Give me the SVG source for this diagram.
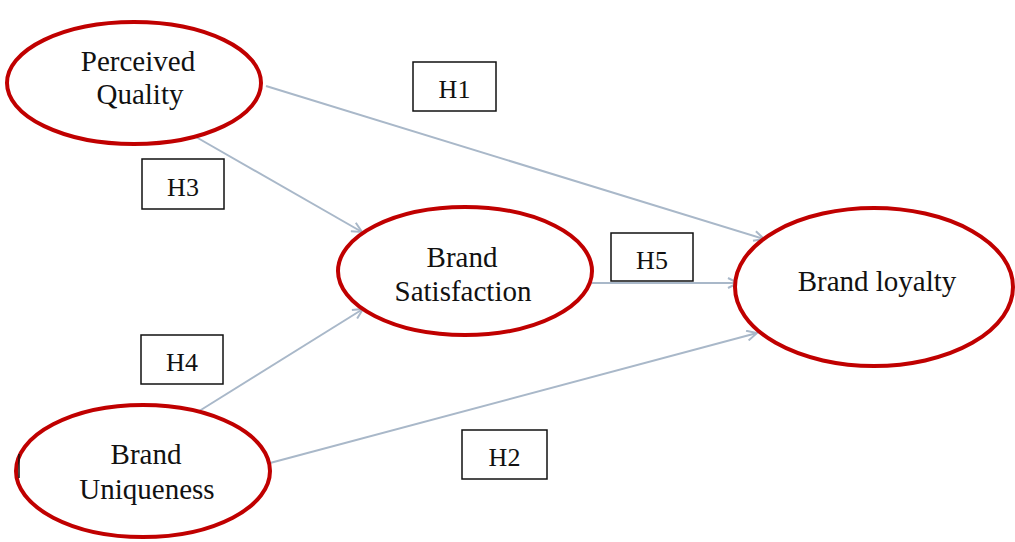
<svg xmlns="http://www.w3.org/2000/svg" width="1015" height="542" viewBox="0 0 1015 542">
<style>
.node{fill:#fff;stroke:#c00000;stroke-width:4}
.t{font-family:"Liberation Serif","Times New Roman",serif;font-size:29px;fill:#111;text-anchor:middle}
.lbl{fill:#fff;stroke:#111;stroke-width:1.5}
.lt{font-family:"Liberation Serif","Times New Roman",serif;font-size:26px;fill:#111;text-anchor:middle}
.c{stroke:#a9b8c9;stroke-width:2;fill:none;marker-end:url(#arr)}
</style>
<defs>
<marker id="arr" viewBox="0 0 12 12" refX="11" refY="6" markerWidth="12" markerHeight="12" markerUnits="userSpaceOnUse" orient="auto">
<path d="M1,1 L11,6 L1,11" fill="none" stroke="#a9b8c9" stroke-width="2"/>
</marker>
</defs>
<g id="connectors">
<line class="c" x1="266" y1="86" x2="764" y2="239"/>
<line class="c" x1="196" y1="137" x2="362" y2="232"/>
<line class="c" x1="196" y1="413" x2="363" y2="309"/>
<line class="c" x1="592" y1="283" x2="738" y2="283"/>
<line class="c" x1="270" y1="463" x2="757" y2="333"/>
</g>
<g id="perceived-quality">
<ellipse class="node" cx="134" cy="83" rx="127" ry="61"/>
<text class="t" x="138" y="71">Perceived</text>
<text class="t" x="140" y="104">Quality</text>
</g>
<g id="brand-satisfaction">
<ellipse class="node" cx="465" cy="271" rx="127" ry="64"/>
<text class="t" x="462" y="267">Brand</text>
<text class="t" x="463" y="301">Satisfaction</text>
</g>
<g id="brand-loyalty">
<ellipse class="node" cx="874" cy="287" rx="139" ry="79"/>
<text class="t" x="877" y="291">Brand loyalty</text>
</g>
<g id="brand-uniqueness">
<ellipse class="node" cx="143" cy="471" rx="127" ry="66"/>
<text class="t" x="146" y="464">Brand</text>
<text class="t" x="147" y="499">Uniqueness</text>
<line x1="19" y1="454" x2="19" y2="478" stroke="#111" stroke-width="1.5"/>
</g>
<g id="H1"><rect class="lbl" x="413" y="62" width="83" height="49"/><text class="lt" x="454.5" y="98">H1</text></g>
<g id="H3"><rect class="lbl" x="142" y="159" width="82" height="50"/><text class="lt" x="183" y="196">H3</text></g>
<g id="H5"><rect class="lbl" x="611" y="233" width="82" height="48"/><text class="lt" x="652" y="269">H5</text></g>
<g id="H4"><rect class="lbl" x="141" y="335" width="82" height="49"/><text class="lt" x="182" y="371">H4</text></g>
<g id="H2"><rect class="lbl" x="462" y="430" width="85" height="49"/><text class="lt" x="504.5" y="466">H2</text></g>
</svg>
